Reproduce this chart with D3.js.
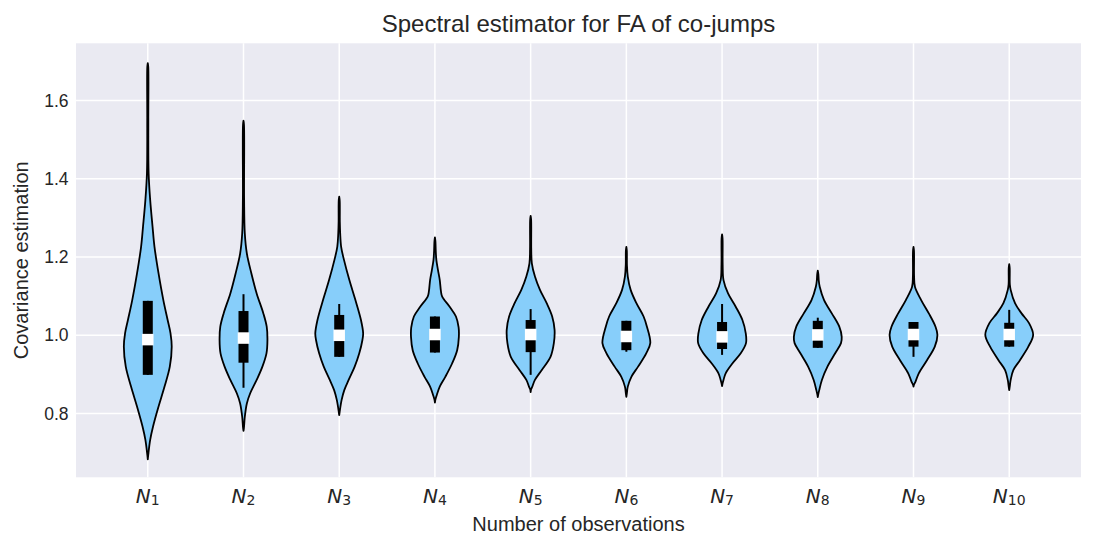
<!DOCTYPE html>
<html>
<head>
<meta charset="utf-8">
<script src="https://cdn.jsdelivr.net/npm/d3@7"></script>
<style>
  html, body { margin: 0; padding: 0; background: #ffffff; }
  svg { display: block; }
</style>
</head>
<body>
<div id="chart"></div>
<script>
// ---------- data ----------
const categories = ["1","2","3","4","5","6","7","8","9","10"];
const yTicks = [0.8, 1.0, 1.2, 1.4, 1.6];
const yTickLabels = ["0.8", "1.0", "1.2", "1.4", "1.6"];

// density profiles: [value, relative density]
const density1 = [[1.695,0],[1.685,0.02],[1.55,0.022],[1.414,0.035],[1.346,0.10],[1.277,0.20],[1.226,0.28],[1.158,0.45],[1.090,0.65],[1.039,0.83],[1.005,0.95],[0.971,1.0],[0.920,0.92],[0.869,0.70],[0.818,0.45],[0.767,0.22],[0.733,0.10],[0.695,0.02],[0.683,0]];
const density2 = [[1.548,0],[1.538,0.02],[1.35,0.025],[1.26,0.055],[1.209,0.14],[1.158,0.33],[1.107,0.55],[1.056,0.83],[1.022,0.97],[0.988,1.0],[0.954,0.96],[0.92,0.79],[0.886,0.55],[0.852,0.28],[0.826,0.14],[0.792,0.055],[0.765,0.02],[0.756,0]];
const density3 = [[1.354,0],[1.344,0.02],[1.29,0.025],[1.26,0.04],[1.226,0.08],[1.192,0.2],[1.141,0.42],[1.09,0.67],[1.039,0.9],[1.005,0.99],[0.988,0.96],[0.954,0.83],[0.92,0.64],[0.886,0.39],[0.86,0.21],[0.835,0.1],[0.805,0.02],[0.796,0]];
const density4 = [[1.250,0],[1.240,0.02],[1.215,0.035],[1.192,0.06],[1.167,0.125],[1.141,0.2],[1.112,0.25],[1.099,0.30],[1.073,0.61],[1.048,0.87],[1.02,0.98],[0.996,0.99],[0.962,0.92],[0.928,0.71],[0.894,0.43],[0.869,0.2],[0.848,0.08],[0.836,0.02],[0.828,0]];
const density5 = [[1.305,0],[1.295,0.02],[1.22,0.025],[1.184,0.05],[1.150,0.18],[1.116,0.39],[1.082,0.67],[1.048,0.9],[1.014,1.0],[0.980,0.97],[0.945,0.83],[0.911,0.46],[0.886,0.18],[0.869,0.07],[0.862,0.02],[0.855,0]];
const density6 = [[1.226,0],[1.216,0.02],[1.18,0.025],[1.150,0.06],[1.116,0.18],[1.082,0.42],[1.048,0.72],[1.022,0.86],[0.980,1.0],[0.954,0.83],[0.920,0.49],[0.894,0.21],[0.869,0.06],[0.851,0.02],[0.843,0]];
const density7 = [[1.258,0],[1.248,0.02],[1.18,0.025],[1.141,0.06],[1.107,0.25],[1.073,0.57],[1.039,0.85],[1.005,0.99],[0.980,1.0],[0.954,0.78],[0.928,0.43],[0.903,0.15],[0.886,0.06],[0.877,0.02],[0.870,0]];
const density8 = [[1.165,0],[1.155,0.025],[1.14,0.04],[1.124,0.08],[1.090,0.26],[1.056,0.58],[1.022,0.89],[0.996,0.99],[0.980,0.96],[0.954,0.72],[0.920,0.4],[0.886,0.17],[0.860,0.06],[0.849,0.02],[0.842,0]];
const density9 = [[1.226,0],[1.216,0.02],[1.15,0.025],[1.124,0.06],[1.090,0.32],[1.056,0.64],[1.022,0.92],[1.001,1.0],[0.971,0.89],[0.937,0.57],[0.903,0.22],[0.881,0.08],[0.874,0.02],[0.869,0]];
const density10 = [[1.182,0],[1.172,0.02],[1.13,0.025],[1.116,0.06],[1.082,0.24],[1.056,0.51],[1.031,0.82],[1.001,0.99],[0.971,0.79],[0.937,0.45],[0.911,0.17],[0.886,0.06],[0.868,0.02],[0.860,0]];
const densities = [density1,density2,density3,density4,density5,density6,density7,density8,density9,density10];

const q1 = [0.899,0.930,0.945,0.956,0.957,0.962,0.965,0.968,0.971,0.971];
const q3 = [1.088,1.062,1.052,1.048,1.039,1.037,1.034,1.037,1.034,1.032];
const medians = [0.989,0.993,1.000,1.002,1.002,0.997,0.996,1.001,1.002,1.002];
const whiskerLow = [0.899,0.866,0.945,0.956,0.899,0.958,0.950,0.968,0.945,0.971];
const whiskerHigh = [1.088,1.105,1.080,1.048,1.067,1.037,1.080,1.045,1.034,1.065];

// ---------- layout ----------
const W = 1095, H = 548;
const plot = {left: 76, right: 1081, top: 43.3, bottom: 477.3};
const textColor = "#262626";

const svg = d3.select("#chart").append("svg")
  .attr("width", W).attr("height", H)
  .attr("viewBox", `0 0 ${W} ${H}`);

const x = d3.scaleLinear().domain([0.25, 10.75]).range([plot.left, plot.right]);
const y = d3.scaleLinear().domain([0.6373, 1.7459]).range([plot.bottom, plot.top]);
const halfWidth = 0.25; // data units (violin width 0.5)

// background
svg.append("rect")
  .attr("x", plot.left).attr("y", plot.top)
  .attr("width", plot.right - plot.left).attr("height", plot.bottom - plot.top)
  .attr("fill", "#EAEAF2");

// grid
const grid = svg.append("g");
grid.selectAll("line.h").data(yTicks).join("line")
  .attr("x1", plot.left).attr("x2", plot.right)
  .attr("y1", d => y(d)).attr("y2", d => y(d))
  .attr("stroke", "#ffffff").attr("stroke-width", 1.5);
grid.selectAll("line.v").data(categories).join("line")
  .attr("x1", (d, i) => x(i + 1)).attr("x2", (d, i) => x(i + 1))
  .attr("y1", plot.top).attr("y2", plot.bottom)
  .attr("stroke", "#ffffff").attr("stroke-width", 1.5);

// violins
const vg = svg.append("g");
densities.forEach((dens, i) => {
  const pos = i + 1;
  const maxD = d3.max(dens, d => d[1]);
  const area = d3.area()
    .y(d => y(d[0]))
    .x0(d => x(pos - halfWidth * d[1] / maxD))
    .x1(d => x(pos + halfWidth * d[1] / maxD))
    .curve(d3.curveCatmullRom.alpha(0.5));
  vg.append("path")
    .datum(dens)
    .attr("d", area)
    .attr("fill", "#87CEFA")
    .attr("stroke", "#000000")
    .attr("stroke-width", 1.8)
    .attr("stroke-linejoin", "round");
});

// whiskers
vg.selectAll("line.whisker").data(categories).join("line")
  .attr("x1", (d, i) => x(i + 1)).attr("x2", (d, i) => x(i + 1))
  .attr("y1", (d, i) => y(whiskerHigh[i])).attr("y2", (d, i) => y(whiskerLow[i]))
  .attr("stroke", "#000000").attr("stroke-width", 2);

// IQR boxes
const boxW = 10;
vg.selectAll("rect.box").data(categories).join("rect")
  .attr("x", (d, i) => x(i + 1) - boxW / 2)
  .attr("y", (d, i) => y(q3[i]))
  .attr("width", boxW)
  .attr("height", (d, i) => y(q1[i]) - y(q3[i]))
  .attr("fill", "#000000");

// medians (white squares)
const mS = 11.5;
vg.selectAll("rect.med").data(categories).join("rect")
  .attr("x", (d, i) => x(i + 1) - mS / 2)
  .attr("y", (d, i) => y(medians[i]) - mS / 2)
  .attr("width", mS).attr("height", mS)
  .attr("fill", "#ffffff");

// y tick labels
svg.append("g").selectAll("text").data(yTicks).join("text")
  .attr("x", plot.left - 7.5)
  .attr("y", d => y(d))
  .attr("dy", "0.35em")
  .attr("text-anchor", "end")
  .attr("font-family", "Liberation Sans, Arial, sans-serif")
  .attr("font-size", 17.5)
  .attr("fill", textColor)
  .text((d, i) => yTickLabels[i]);

// x tick labels (N with subscript)
const xt = svg.append("g").selectAll("text").data(categories).join("text")
  .attr("x", (d, i) => x(i + 1))
  .attr("y", 503.3)
  .attr("text-anchor", "middle")
  .attr("font-family", "DejaVu Sans, sans-serif")
  .attr("font-size", 20)
  .attr("fill", textColor);
xt.append("tspan").attr("font-style", "italic").text("N");
xt.append("tspan").attr("font-size", 14).attr("dy", 2).text(d => d);

// axis labels
svg.append("text")
  .attr("x", (plot.left + plot.right) / 2)
  .attr("y", 531)
  .attr("text-anchor", "middle")
  .attr("font-family", "Liberation Sans, Arial, sans-serif")
  .attr("font-size", 20)
  .attr("fill", textColor)
  .text("Number of observations");

svg.append("text")
  .attr("transform", `translate(28.3, ${(plot.top + plot.bottom) / 2}) rotate(-90)`)
  .attr("text-anchor", "middle")
  .attr("font-family", "Liberation Sans, Arial, sans-serif")
  .attr("font-size", 20)
  .attr("fill", textColor)
  .text("Covariance estimation");

// title
svg.append("text")
  .attr("x", (plot.left + plot.right) / 2)
  .attr("y", 31.7)
  .attr("text-anchor", "middle")
  .attr("font-family", "Liberation Sans, Arial, sans-serif")
  .attr("font-size", 24)
  .attr("fill", textColor)
  .text("Spectral estimator for FA of co-jumps");
</script>
</body>
</html>
